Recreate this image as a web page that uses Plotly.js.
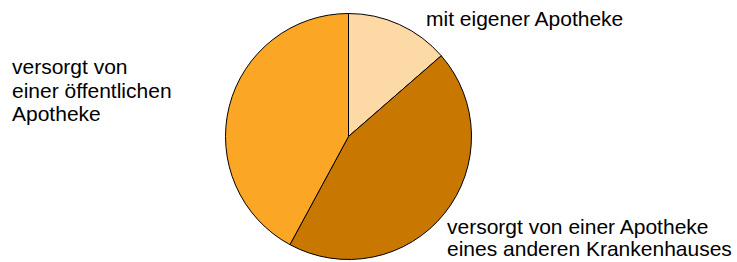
<!DOCTYPE html>
<html><head><meta charset="utf-8">
<script src="https://cdn.plot.ly/plotly-3.0.1.min.js"></script>
<style>html,body{margin:0;padding:0;background:#fff}#c{width:737px;height:262px}</style>
</head><body><div id="c"></div>
<script>
const labels = ["mit eigener Apotheke", "versorgt von einer Apotheke eines anderen Krankenhauses", "versorgt von einer öffentlichen Apotheke"];
const labelLines = [["mit eigener Apotheke"], ["versorgt von einer Apotheke", "eines anderen Krankenhauses"], ["versorgt von", "einer öffentlichen", "Apotheke"]];
const values = [13.6, 44.3, 42.1];
const colors = ["#FDD9A5", "#C87800", "#FBA624"];

const W = 737, H = 262, cx = 348.5, cy = 136.5, r = 123;
const trace = {
  type: "pie", labels: labels, values: values, sort: false, direction: "clockwise", rotation: 0,
  marker: {colors: colors, line: {color: "#000", width: 1}},
  textinfo: "none", hoverinfo: "skip", showlegend: false,
  domain: {x: [(cx - r) / W, (cx + r) / W], y: [(H - cy - r) / H, (H - cy + r) / H]}
};
const font = {family: "Liberation Sans, Arial, sans-serif", size: 21, color: "#000"};
// left x and first-line centre y (px) and line pitch for each label block
const blockPos = [
  {x: 424, y: 18.5, pitch: 24},
  {x: 445, y: 226, pitch: 22},
  {x: 10, y: 66, pitch: 24}
];
const annotations = [];
labelLines.forEach((lines, i) => {
  lines.forEach((t, j) => {
    annotations.push({
      text: t, xref: "paper", yref: "paper",
      x: blockPos[i].x / W, y: 1 - (blockPos[i].y + j * blockPos[i].pitch) / H,
      xanchor: "left", yanchor: "middle", align: "left", showarrow: false, font: font
    });
  });
});
Plotly.newPlot("c", [trace], {
  width: W, height: H, margin: {l: 0, r: 0, t: 0, b: 0},
  paper_bgcolor: "#fff", annotations: annotations
}, {staticPlot: true, displayModeBar: false});
</script></body></html>
